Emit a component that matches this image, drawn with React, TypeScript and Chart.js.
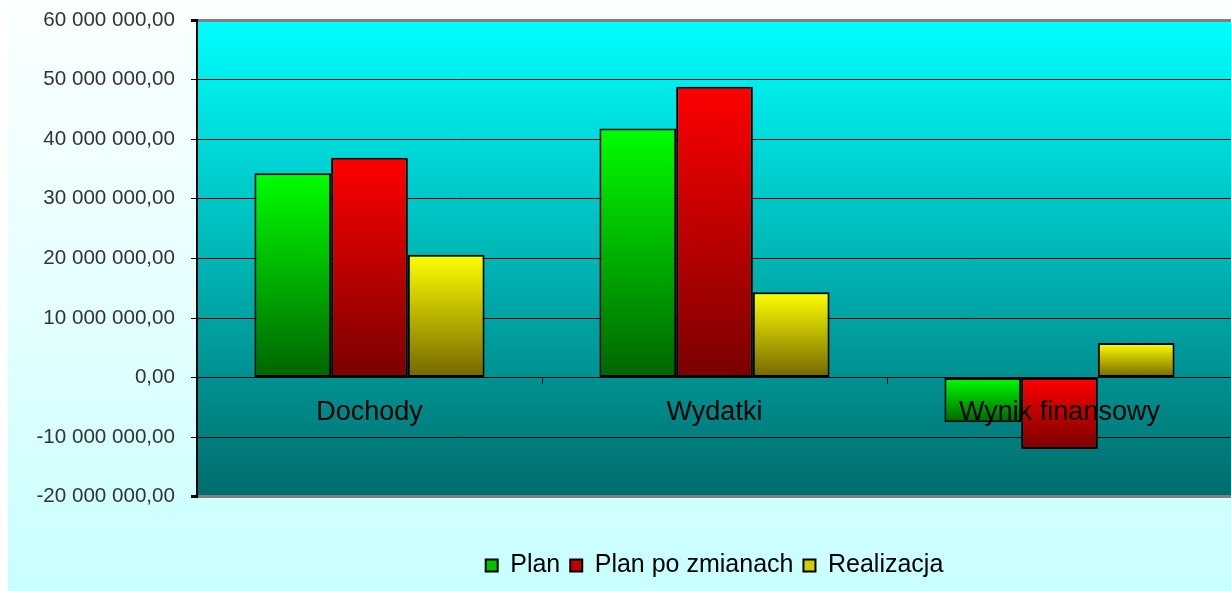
import React, { useEffect, useRef } from "react";
import { Chart, registerables } from "chart.js";

Chart.register(...registerables);

const categories = ["Dochody", "Wydatki", "Wynik finansowy"];
const seriesNames = ["Plan", "Plan po zmianach", "Realizacja"];
const plan = [34300000, 41800000, -7500000];
const planPoZmianach = [36900000, 48800000, -12000000];
const realizacja = [20600000, 14300000, 5800000];
const yMin = -20000000;
const yMax = 60000000;
const yStep = 10000000;

const FONT = "'Liberation Sans', Arial, sans-serif";

function fmt(v: number): string {
  const neg = v < 0;
  const s = Math.abs(Math.round(v))
    .toString()
    .replace(/\B(?=(\d{3})+(?!\d))/g, " ");
  return (neg ? "-" : "") + s + ",00";
}

function barGradient(top: string, bottom: string, mid: string) {
  return (ctx: any) => {
    const chart = ctx.chart;
    if (!chart.chartArea || ctx.type !== "data" || !chart.scales.y) return mid;
    const y = chart.scales.y;
    const v = ctx.raw as number;
    const pTop = y.getPixelForValue(Math.max(v, 0));
    const pBot = y.getPixelForValue(Math.min(v, 0));
    if (!isFinite(pTop) || !isFinite(pBot) || pTop === pBot) return mid;
    const g = chart.ctx.createLinearGradient(0, pTop, 0, pBot);
    g.addColorStop(0, top);
    g.addColorStop(1, bottom);
    return g;
  };
}

const plotBg = {
  id: "plotBg",
  beforeDraw(chart: any) {
    const { ctx, chartArea } = chart;
    if (!chartArea) return;
    const g = ctx.createLinearGradient(0, chartArea.top, 0, chartArea.bottom);
    g.addColorStop(0, "#00ffff");
    g.addColorStop(1, "#006c6c");
    ctx.save();
    ctx.fillStyle = g;
    ctx.fillRect(chartArea.left, chartArea.top, chartArea.right - chartArea.left, chartArea.bottom - chartArea.top);
    ctx.restore();
  },
};

const legendColors = ["#00c000", "#c00000", "#d0d000"];

export default function App() {
  const ref = useRef<HTMLCanvasElement | null>(null);

  useEffect(() => {
    document.body.style.overflow = "hidden";
    const canvas = ref.current;
    if (!canvas) return;
    const chart = new Chart(canvas, {
      type: "bar",
      data: {
        labels: categories,
        datasets: [
          {
            label: seriesNames[0],
            data: plan,
            backgroundColor: barGradient("#00ff00", "#006400", "#00c000"),
          },
          {
            label: seriesNames[1],
            data: planPoZmianach,
            backgroundColor: barGradient("#ff0000", "#7a0000", "#c00000"),
          },
          {
            label: seriesNames[2],
            data: realizacja,
            backgroundColor: barGradient("#ffff00", "#736600", "#d0d000"),
          },
        ].map((d) => ({
          ...d,
          borderColor: "#000000",
          borderWidth: 2,
          borderSkipped: false,
          categoryPercentage: 0.667,
          barPercentage: 1.0,
        })),
      },
      options: {
        responsive: false,
        animation: false,
        events: [],
        layout: { padding: { top: 20, bottom: 3, left: 0, right: 0 } },
        plugins: {
          tooltip: { enabled: false },
          title: { display: false },
          legend: {
            position: "bottom",
            fullSize: false,
            title: {
              display: true,
              text: "",
              font: { size: 1 },
              padding: { top: 0, bottom: 45 },
            },
            labels: {
              boxWidth: 12,
              boxHeight: 12,
              padding: 10,
              color: "#000000",
              font: { family: FONT, size: 25 },
              generateLabels: (chart: any) =>
                chart.data.datasets.map((ds: any, i: number) => ({
                  text: ds.label,
                  fillStyle: legendColors[i],
                  strokeStyle: "#000000",
                  lineWidth: 2,
                  hidden: false,
                  datasetIndex: i,
                  fontColor: "#000000",
                })),
            },
          },
        },
        scales: {
          x: {
            position: { y: 0 } as any,
            offset: true,
            grid: {
              display: true,
              drawOnChartArea: false,
              drawTicks: true,
              tickLength: 6,
              offset: true,
              color: "#000000",
              tickColor: "#000000",
              z: 1,
            },
            border: { display: true, color: "#000000", width: 1, z: 1 },
            ticks: {
              z: 1,
              color: "#000000",
              font: { family: FONT, size: 27 },
              padding: 13,
              maxRotation: 0,
              autoSkip: false,
            },
          },
          y: {
            min: yMin,
            max: yMax,
            afterFit: (scale: any) => {
              scale.width = 189;
              scale.paddingTop = 12;
              scale.paddingBottom = 12;
            },
            ticks: {
              stepSize: yStep,
              padding: 16,
              color: "#333333",
              font: { family: FONT, size: 20.6 },
              callback: (v: any) => fmt(Number(v)),
            },
            grid: {
              color: (ctx: any) =>
                ctx.tick && (ctx.tick.value === yMax || ctx.tick.value === yMin) ? "#808080" : "#000000",
              lineWidth: (ctx: any) =>
                ctx.tick && (ctx.tick.value === yMax || ctx.tick.value === yMin) ? 3 : 1,
              tickColor: "#000000",
              tickLength: 6,
              drawTicks: true,
            },
            border: { display: true, color: "#000000", width: 2 },
          },
        },
      },
      plugins: [plotBg],
    });
    return () => chart.destroy();
  }, []);

  return (
    <div
      style={{
        position: "absolute",
        left: 8,
        top: 0,
        width: 1224,
        height: 591,
        background: "linear-gradient(to bottom, #fbffff 0%, #e6ffff 50%, #c8ffff 100%)",
      }}
    >
      <canvas ref={ref} width={1224} height={591} style={{ display: "block" }} />
    </div>
  );
}
